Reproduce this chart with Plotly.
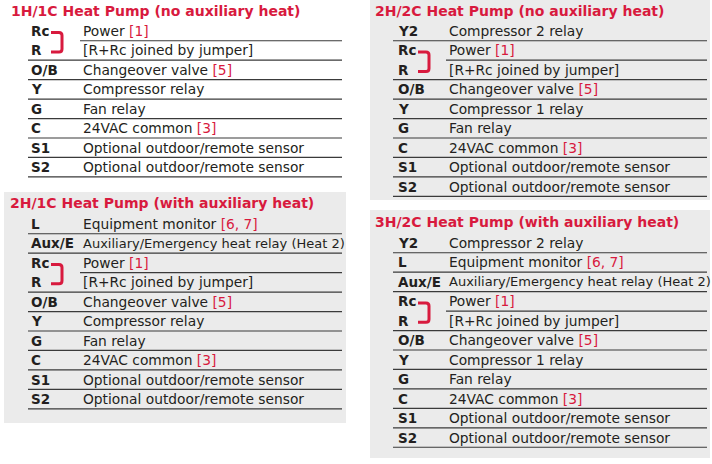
import plotly.graph_objects as go

FONT = "DejaVu Sans"
RED = "#d81a3e"
INK = "#231f20"
GRAY = "#ebebeb"
RULE = "#3a3a3a"
ROW_H = 19.45

# ---- data: one list per panel ----
title_1 = "1H/1C Heat Pump (no auxiliary heat)"
codes_1 = ["Rc", "R", "O/B", "Y", "G", "C", "S1", "S2"]
desc_1 = ["Power", "[R+Rc joined by jumper]", "Changeover valve", "Compressor relay",
          "Fan relay", "24VAC common", "Optional outdoor/remote sensor",
          "Optional outdoor/remote sensor"]
notes_1 = ["[1]", "", "[5]", "", "", "[3]", "", ""]

title_2 = "2H/2C Heat Pump (no auxiliary heat)"
codes_2 = ["Y2", "Rc", "R", "O/B", "Y", "G", "C", "S1", "S2"]
desc_2 = ["Compressor 2 relay", "Power", "[R+Rc joined by jumper]", "Changeover valve",
          "Compressor 1 relay", "Fan relay", "24VAC common",
          "Optional outdoor/remote sensor", "Optional outdoor/remote sensor"]
notes_2 = ["", "[1]", "", "[5]", "", "", "[3]", "", ""]

title_3 = "2H/1C Heat Pump (with auxiliary heat)"
codes_3 = ["L", "Aux/E", "Rc", "R", "O/B", "Y", "G", "C", "S1", "S2"]
desc_3 = ["Equipment monitor", "Auxiliary/Emergency heat relay (Heat 2)", "Power",
          "[R+Rc joined by jumper]", "Changeover valve", "Compressor relay", "Fan relay",
          "24VAC common", "Optional outdoor/remote sensor", "Optional outdoor/remote sensor"]
notes_3 = ["[6, 7]", "", "[1]", "", "[5]", "", "", "[3]", "", ""]

title_4 = "3H/2C Heat Pump (with auxiliary heat)"
codes_4 = ["Y2", "L", "Aux/E", "Rc", "R", "O/B", "Y", "G", "C", "S1", "S2"]
desc_4 = ["Compressor 2 relay", "Equipment monitor", "Auxiliary/Emergency heat relay (Heat 2)",
          "Power", "[R+Rc joined by jumper]", "Changeover valve", "Compressor 1 relay",
          "Fan relay", "24VAC common", "Optional outdoor/remote sensor",
          "Optional outdoor/remote sensor"]
notes_4 = ["", "[6, 7]", "", "[1]", "", "[5]", "", "", "[3]", "", ""]

# ---- layout of each panel (pixel coordinates) ----
panels = [
    dict(title=title_1, codes=codes_1, desc=desc_1, notes=notes_1, bg=None,
         tx=9, ty=11, lx=29, dx=82, y0=31, x0=28, x1=342),
    dict(title=title_2, codes=codes_2, desc=desc_2, notes=notes_2, bg=(370, 0, 710, 200),
         tx=373, ty=11, lx=396, dx=448, y0=31, x0=393, x1=707),
    dict(title=title_3, codes=codes_3, desc=desc_3, notes=notes_3, bg=(4, 192, 346, 423),
         tx=8, ty=203, lx=29, dx=82, y0=224, x0=28, x1=342),
    dict(title=title_4, codes=codes_4, desc=desc_4, notes=notes_4, bg=(370, 210, 710, 458),
         tx=373, ty=222, lx=396, dx=448, y0=243, x0=393, x1=707),
]

fig = go.Figure()
shapes = []
annotations = []

for p in panels:
    if p["bg"]:
        bx0, by0, bx1, by1 = p["bg"]
        shapes.append(dict(type="rect", xref="x", yref="y", x0=bx0, y0=by0, x1=bx1, y1=by1,
                           fillcolor=GRAY, line_width=0, layer="below"))
    annotations.append(dict(x=p["tx"], y=p["ty"], xref="x", yref="y", xanchor="left",
                            yanchor="middle", showarrow=False, text="<b>%s</b>" % p["title"],
                            font=dict(family=FONT, size=14, color=RED)))
    for i, code in enumerate(p["codes"]):
        yc = p["y0"] + i * ROW_H
        annotations.append(dict(x=p["lx"], y=yc, xref="x", yref="y", xanchor="left",
                                yanchor="middle", showarrow=False, text="<b>%s</b>" % code,
                                font=dict(family=FONT, size=13.5, color=INK)))
        desc = p["desc"][i]
        txt = desc
        if p["notes"][i]:
            txt += " <span style='color:%s'>%s</span>" % (RED, p["notes"][i])
        # the long aux/emergency line is set a touch tighter, as in the print
        fsize = 13 if len(desc) > 34 else 13.8
        annotations.append(dict(x=p["dx"] - 1, y=yc, xref="x", yref="y", xanchor="left",
                                yanchor="middle", showarrow=False, text=txt,
                                font=dict(family=FONT, size=fsize, color=INK)))
        # rule under the row; under Rc it only spans the description column
        lx0 = p["dx"] - 2 if code == "Rc" else p["x0"]
        yl = yc + ROW_H / 2
        shapes.append(dict(type="line", xref="x", yref="y", x0=lx0, x1=p["x1"], y0=yl, y1=yl,
                           line=dict(color=RULE, width=1.2)))
        if code == "Rc":
            # jumper bracket joining Rc and R
            a = p["lx"] + 22
            b = p["lx"] + 33
            t = yc + 1.5
            u = yc + ROW_H + 1.5
            path = ("M %.1f %.1f L %.1f %.1f Q %.1f %.1f %.1f %.1f L %.1f %.1f "
                    "Q %.1f %.1f %.1f %.1f L %.1f %.1f" %
                    (a, t, b - 3, t, b, t, b, t + 3, b, u - 3, b, u, b - 3, u, a, u))
            shapes.append(dict(type="path", xref="x", yref="y", path=path,
                               line=dict(color=RED, width=3)))

fig.update_layout(
    width=712, height=464,
    margin=dict(l=0, r=0, t=0, b=0),
    paper_bgcolor="white", plot_bgcolor="white",
    shapes=shapes, annotations=annotations,
    showlegend=False,
)
fig.update_xaxes(range=[0, 712], visible=False, fixedrange=True)
fig.update_yaxes(range=[464, 0], visible=False, fixedrange=True)

fig.write_html("out.html", config=dict(displayModeBar=False),
               post_script="document.body.style.margin = '0';")
